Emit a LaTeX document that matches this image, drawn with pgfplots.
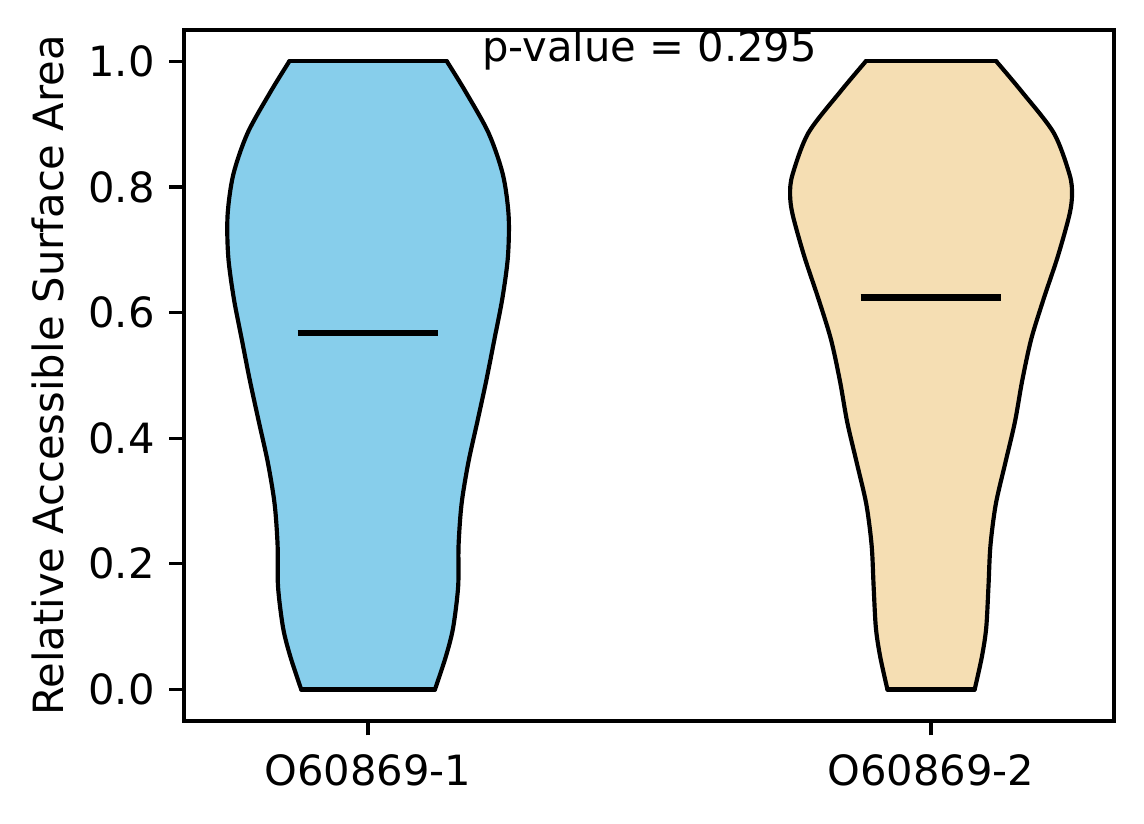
\documentclass[border=0pt]{standalone}
\usepackage{pgfplots}
\usepackage{pgfplotstable}
\pgfplotsset{compat=1.18}
\usepgfplotslibrary{fillbetween}
\usepackage{fontspec}
\setmainfont{DejaVu Sans}
\definecolor{skyblue}{RGB}{135,206,235}
\definecolor{wheat}{RGB}{245,222,179}
\pgfplotstableread{
y h
0.000 0.1188
0.052 0.1380
0.098 0.1510
0.164 0.1600
0.229 0.1607
0.295 0.1660
0.361 0.1780
0.426 0.1940
0.492 0.2100
0.558 0.2245
0.623 0.2386
0.689 0.2484
0.755 0.2496
0.820 0.2394
0.886 0.2140
0.952 0.1730
1.000 0.1400
}\vone
\pgfplotstableread{
y h
0.000 0.0775
0.052 0.0903
0.098 0.0980
0.164 0.1020
0.229 0.1055
0.295 0.1150
0.361 0.1320
0.426 0.1490
0.492 0.1620
0.558 0.1780
0.623 0.2004
0.689 0.2250
0.755 0.2456
0.788 0.2504
0.820 0.2460
0.886 0.2180
0.952 0.1610
1.000 0.1160
}\vtwo
\begin{document}
\begin{tikzpicture}
\begin{axis}[
  scale only axis,
  width=223.2pt, height=165.8pt,
  xmin=0.673, xmax=2.325, ymin=-0.05, ymax=1.05,
  xtick={1,2}, xticklabels={O60869-1,O60869-2},
  ytick={0,0.2,0.4,0.6,0.8,1.0},
  yticklabel style={/pgf/number format/.cd,fixed,fixed zerofill,precision=1},
  /pgf/number format/assume math mode=true,
  tick align=outside, tick pos=left,
  major tick length=3.5pt,
  every tick/.style={black, line width=0.8pt},
  axis line style={black, line width=0.8pt},
  ylabel={Relative Accessible Surface Area},
  ylabel style={yshift=-1pt},
  xticklabel style={yshift=-1pt},
  clip=false,
]
\coordinate (sw) at (rel axis cs:0,0);
\coordinate (ne) at (rel axis cs:1,1);
% violin 1
\addplot[draw=none, name path=R1, smooth, tension=0.5] table[x expr=1+\thisrow{h}, y=y] {\vone};
\addplot[draw=none, name path=L1, smooth, tension=0.5] table[x expr=1-\thisrow{h}, y=y] {\vone};
\addplot[skyblue, draw=none] fill between[of=R1 and L1, reverse=true];
\addplot[black, line width=1pt, smooth, tension=0.5, line cap=round] table[x expr=1+\thisrow{h}, y=y] {\vone};
\addplot[black, line width=1pt, smooth, tension=0.5, line cap=round] table[x expr=1-\thisrow{h}, y=y] {\vone};
\addplot[black, line width=1pt, line cap=round] coordinates {(0.8600,1) (1.1400,1)};
\addplot[black, line width=1pt, line cap=round] coordinates {(0.8812,0) (1.1188,0)};
% violin 2
\addplot[draw=none, name path=R2, smooth, tension=0.5] table[x expr=2+\thisrow{h}, y=y] {\vtwo};
\addplot[draw=none, name path=L2, smooth, tension=0.5] table[x expr=2-\thisrow{h}, y=y] {\vtwo};
\addplot[wheat, draw=none] fill between[of=R2 and L2, reverse=true];
\addplot[black, line width=1pt, smooth, tension=0.5, line cap=round] table[x expr=2+\thisrow{h}, y=y] {\vtwo};
\addplot[black, line width=1pt, smooth, tension=0.5, line cap=round] table[x expr=2-\thisrow{h}, y=y] {\vtwo};
\addplot[black, line width=1pt, line cap=round] coordinates {(1.8840,1) (2.1160,1)};
\addplot[black, line width=1pt, line cap=round] coordinates {(1.9225,0) (2.0775,0)};
% means
\addplot[black, line width=1.5pt] coordinates {(0.875,0.568) (1.125,0.568)};
\addplot[black, line width=1.5pt] coordinates {(1.875,0.624) (2.125,0.624)};
\node[anchor=base, inner sep=0pt] at (axis cs:1.5,1.0) {p-value = 0.295};
\end{axis}
\pgfresetboundingbox
\path[use as bounding box] ([shift={(-44.16pt,-24.72pt)}]sw) rectangle ([shift={(7.2pt,7.2pt)}]ne);
\end{tikzpicture}
\end{document}
